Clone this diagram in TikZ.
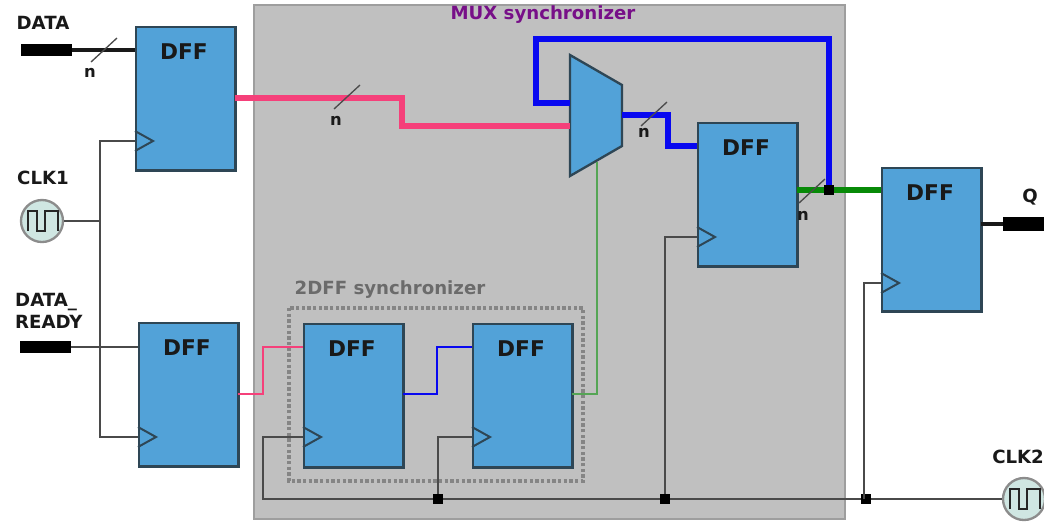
\documentclass[tikz,border=0pt]{standalone}
\usepackage{fontspec}
\setmainfont{DejaVu Sans}
\usetikzlibrary{calc}
\definecolor{dffblue}{HTML}{52A2D8}
\definecolor{dffedge}{HTML}{2E4655}
\definecolor{panelgray}{HTML}{C0C0C0}
\definecolor{paneledge}{HTML}{9E9E9E}
\definecolor{buspink}{HTML}{F5407A}
\definecolor{busblue}{HTML}{0808F0}
\definecolor{busgreen}{HTML}{078A07}
\definecolor{thingreen}{HTML}{55A555}
\definecolor{wiregray}{HTML}{4A4A4A}
\definecolor{clkfill}{HTML}{CFE6E2}
\definecolor{muxpurple}{HTML}{770F88}
\tikzset{
	dffbox/.style={draw=dffedge, fill=dffblue, line width=0.7mm, anchor=north west, inner sep=0pt, minimum width=2.98cm, minimum height=4.3cm},
	dfftext/.style={font=\bfseries\fontsize{18.5}{18.5}\selectfont, text=black!90},
	pinlabel/.style={font=\bfseries\fontsize{15.5}{18.7}\selectfont, text=black!90},
	titletext/.style={font=\bfseries\fontsize{15.5}{16}\selectfont},
	nlabel/.style={font=\bfseries\fontsize{14}{14}\selectfont, text=black!90},
	bus/.style={line width=1.6mm},
	thinwire/.style={line width=0.55mm},
	clkwire/.style={line width=0.7mm, color=wiregray},
	jdot/.style={fill=black, inner sep=0pt, minimum size=0.3cm},
	portbar/.style={fill=black, inner sep=0pt, minimum width=1.5cm, minimum height=0.38cm}
}
\def\dffcell(#1)(#2,#3)(#4:#5:#6){
	\node[dffbox] (#1) at (#2,#3) {};
	\node[dfftext] (#1t) at (#2+49,#3+26) {DFF};
	\coordinate (#1d) at (#2,#3+#4);
	\coordinate (#1q) at (#2+99.5,#3+#5);
	\coordinate (#1c) at (#2,#3+#6);
	\draw[line width=0.6mm, color=dffedge] (#2,#3+#6-10) -- (#2+18,#3+#6) -- (#2,#3+#6+10);
}
\def\clksym(#1)(#2,#3){
	\node[circle, draw=black!45, fill=clkfill, line width=0.7mm, minimum size=1.26cm, inner sep=0pt] (#1) at (#2,#3) {};
	\draw[line width=0.8mm, color=black!85] (#2-14,#3+10) -- ++(0,-20) -- ++(9,0) -- ++(0,20) -- ++(8,0) -- ++(0,-20) -- ++(13,0) -- ++(0,20);
}
\def\busmark(#1)(#2,#3)(#4,#5){
	\draw[line width=0.4mm, color=black!70] (#2-13,#3+12) -- (#2+13,#3-12);
	\node[nlabel] (#1) at (#4,#5) {n};
}

\begin{document}
\begin{tikzpicture}[x=0.03cm, y=-0.03cm]
			%%%%% START %%%%%
			\useasboundingbox (0, 0) rectangle (1044, 521);
			\clip (0, 0) rectangle (1044, 521);
			\fill[white] (0, 0) rectangle (1044, 521);
			
			\draw[line width=0.4mm, color=paneledge, fill=panelgray] (254, 5) rectangle (845, 519);
			\node[titletext, text=muxpurple] (muxtitle) at (543, 15) {MUX synchronizer};
			\node[titletext, text=black!58] (synctitle) at (390, 290) {2DFF synchronizer};
			
			\dffcell(ffa)(135, 26)(24:72:115);
			\dffcell(ffb)(138, 322)(25:72:115);
			\dffcell(ffc)(303, 323)(24:71:114);
			\dffcell(ffd)(472, 323)(24:71:114);
			\dffcell(ffe)(697, 122)(24:68:115);
			\dffcell(fff)(881, 167)(23:57:116);
			
			\draw[line width=0.7mm, color=dffedge, fill=dffblue] (570, 55) coordinate (muxtop) -- (622, 85) -- (622, 146) -- (570, 176) -- cycle;
			\coordinate (muxa) at (570, 103);
			\coordinate (muxb) at (570, 126);
			\coordinate (muxo) at (622, 115);
			\coordinate (muxs) at (597, 162);
			
			% ports
			\node[portbar, minimum width=1.53cm] (dataport) at (46.5, 50) {};
			\node[portbar, minimum width=1.53cm, minimum height=0.36cm] (readyport) at (45.5, 347) {};
			\node[portbar, minimum width=1.3cm, minimum height=0.42cm] (qport) at (1025, 224) {};
			\clksym(clka)(42, 221);
			\clksym(clkb)(1024, 499);
			\node[pinlabel] (datalabel) at (43, 23) {DATA};
			\node[pinlabel] (clkalabel) at (43, 178) {CLK1};
			\node[pinlabel, align=left, anchor=north west, inner sep=0pt] (readylabel) at (15, 293) {DATA\_\\READY};
			\node[pinlabel, anchor=west, inner sep=0pt] (clkblabel) at (992, 457) {CLK2};
			\node[pinlabel] (qlabel) at (1030, 197) {Q};
			
			% buses
			\draw[line width=1.2mm, color=black!90] (dataport) -- (ffad);
			\draw[line width=1.2mm, color=black!90] (fffq) -- (qport);
			\coordinate (pinkbend) at (402, 110);
			\draw[bus, color=buspink] (ffaq) -| (pinkbend) |- (muxb);
			\coordinate (feedtop) at (536, 39);
			\coordinate (feedpt) at (829, 190);
			\draw[bus, color=busgreen] (ffeq) -- (feedpt) -- (fffd);
			\draw[bus, color=busblue] (feedpt) |- (feedtop) |- (muxa);
			\coordinate (outbend) at (668, 130);
			\draw[bus, color=busblue] (muxo) -| (outbend) |- (ffed);
			
			% thin data wires
			\coordinate (readybend) at (263, 370);
			\draw[thinwire, color=buspink] (ffbq) -| (readybend) |- (ffcd);
			\coordinate (syncbend) at (437, 370);
			\draw[thinwire, color=busblue] (ffcq) -| (syncbend) |- (ffdd);
			\draw[line width=0.6mm, color=thingreen] (ffdq) -| (muxs);
			\draw[line width=0.55mm, color=wiregray] (readyport) -- (ffbd);
			
			% clocks
			\coordinate (clkatap) at (100, 221);
			\draw[clkwire] (clka) -- (clkatap);
			\draw[clkwire] (ffac) -| (clkatap) |- (ffbc);
			\node[jdot] (jc) at (438, 499) {};
			\node[jdot] (jd) at (665, 499) {};
			\node[jdot] (je) at (866, 499) {};
			\coordinate (clkend) at (263, 499);
			\draw[clkwire] (clkb) -- (je) -- (jd) -- (jc) -- (clkend) |- (ffcc);
			\draw[clkwire] (jc) |- (ffdc);
			\draw[clkwire] (jd) |- (ffec);
			\draw[clkwire] (864, 499) |- (fffc);
			
			\draw[line width=1.05mm, color=black!48, dash pattern=on 1mm off 0.7mm] (289, 308) rectangle (583, 481);
			\node[jdot] (jf) at (829, 190) {};
			
			\busmark(na)(104, 50)(90, 73);
			\busmark(nb)(347, 97)(336, 121);
			\busmark(nc)(654, 114)(644, 133);
			\busmark(nd)(812, 191)(803, 216);
			%%%%% END %%%%%
		\end{tikzpicture}
\end{document}
